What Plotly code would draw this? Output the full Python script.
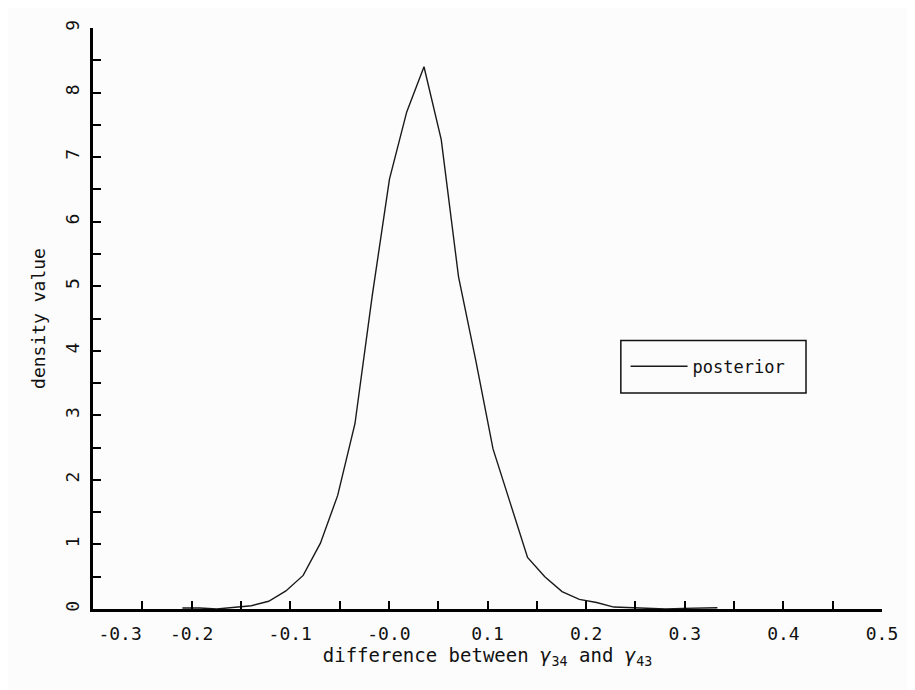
import plotly.graph_objects as go

# ---- data ----
x_vals = [-0.2094, -0.1919, -0.1744, -0.1569, -0.1394, -0.1219, -0.1044, -0.0869,
          -0.0694, -0.0519, -0.0344, -0.0169, 0.0006, 0.0181, 0.0356, 0.0531,
          0.0706, 0.0881, 0.1056, 0.1231, 0.1406, 0.1581, 0.1756, 0.1931,
          0.2106, 0.2281, 0.2456, 0.2631, 0.2806, 0.2981, 0.3156, 0.3331]
density = [0.015, 0.015, 0.0, 0.02, 0.05, 0.12, 0.28, 0.52,
           1.02, 1.76, 2.87, 4.85, 6.66, 7.70, 8.40, 7.27,
           5.15, 3.85, 2.48, 1.64, 0.80, 0.50, 0.27, 0.15,
           0.10, 0.03, 0.02, 0.02, 0.0, 0.01, 0.02, 0.02]
series_name = "posterior"

x_tick_vals = [-0.3, -0.2, -0.1, 0.0, 0.1, 0.2, 0.3, 0.4, 0.5]
x_tick_text = ["\u00a0\u00a0\u00a0\u00a0\u00a0-0.3", "-0.2", "-0.1", "-0.0",
               "0.1", "0.2", "0.3", "0.4", "0.5"]
y_tick_vals = [0, 1, 2, 3, 4, 5, 6, 7, 8, 9]
y_tick_text = ["0", "1", "2", "3", "4", "5", "6", "7", "8", "9"]

x_title = "difference between <i>γ</i><sub>34</sub> and <i>γ</i><sub>43</sub>"
y_title = "density value"

FONT = "DejaVu Sans Mono"
FS = 18
INK = "#111"
BG = "#fcfcfc"

fig = go.Figure()
fig.add_trace(go.Scatter(
    x=x_vals, y=density, mode="lines", name=series_name,
    line=dict(color="#1a1a1a", width=1.4),
    showlegend=True,
))

# legend frame (page offset of 8px is accounted for in the figure size/margins)
fig.add_shape(type="rect", xref="paper", yref="paper",
              x0=0.669, x1=0.9037, y0=0.3716, y1=0.4623,
              line=dict(color=INK, width=1.5), fillcolor="rgba(0,0,0,0)")

fig.update_layout(
    width=907, height=682,
    margin=dict(l=85, r=33, t=17, b=81),
    paper_bgcolor=BG, plot_bgcolor=BG,
    font=dict(family=FONT, size=FS, color=INK),
    showlegend=True,
    legend=dict(
        x=0.675, y=0.417, xanchor="left", yanchor="middle",
        bgcolor="rgba(0,0,0,0)", borderwidth=0,
        font=dict(family=FONT, size=FS - 1, color=INK),
        itemwidth=57,
    ),
)

fig.update_xaxes(
    range=[-0.3, 0.5], showgrid=False, zeroline=False,
    showline=True, linecolor="#000", linewidth=3,
    ticks="inside", ticklen=8, tickwidth=1.5, tickcolor="#000",
    tickvals=x_tick_vals, ticktext=x_tick_text, ticklabelstandoff=6,
    minor=dict(dtick=0.05, tick0=0, ticks="inside", ticklen=8, tickwidth=1.5, tickcolor="#000"),
    tickfont=dict(family=FONT, size=FS, color=INK),
    title=dict(text=x_title, font=dict(family=FONT, size=FS + 1, color=INK), standoff=6),
)
fig.update_yaxes(
    range=[0, 9], showgrid=False, zeroline=False,
    showline=True, linecolor="#000", linewidth=3,
    ticks="inside", ticklen=8, tickwidth=1.5, tickcolor="#000",
    tickvals=y_tick_vals, ticktext=y_tick_text, tickangle=-90, ticklabelstandoff=4,
    minor=dict(dtick=0.5, tick0=0, ticks="inside", ticklen=8, tickwidth=1.5, tickcolor="#000"),
    tickfont=dict(family=FONT, size=FS, color=INK),
    title=dict(text=y_title, font=dict(family=FONT, size=FS, color=INK), standoff=12),
)

fig.write_html("out.html")
